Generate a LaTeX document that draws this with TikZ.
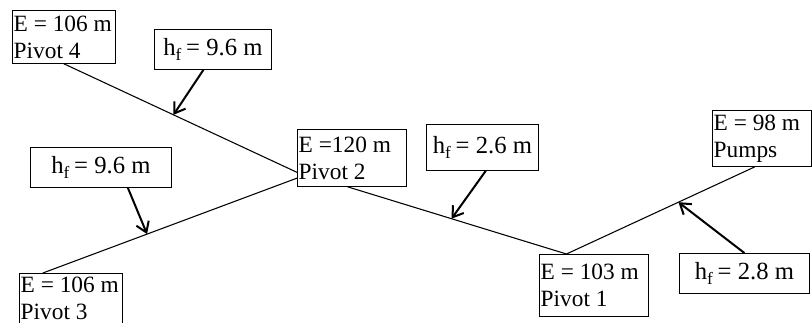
\documentclass[tikz,border=0pt]{standalone}
\usepackage{fontspec}
\setmainfont{Liberation Serif}
\usetikzlibrary{arrows.meta,calc}

\begin{document}
\begin{tikzpicture}[x=0.75pt, y=-0.75pt,
    pivot/.style={draw, line width=0.6pt, anchor=north west, inner xsep=1pt, inner ysep=0pt,
        align=flush left, font=\fontsize{17.5}{20.25}\selectfont},
    loss/.style={draw, line width=0.6pt, anchor=north west, inner sep=0pt,
        font=\fontsize{18.5}{22}\selectfont},
    pipe/.style={line width=0.8pt},
    flow/.style={line width=1.5pt, -{Straight Barb[length=7.5pt, width=10pt]}}]
    \path[use as bounding box, clip] (0,0) rectangle (812,323);

    % Pivots and pumps
    \node[pivot, minimum height=39.75pt, text width=75.25pt] (p4) at (12,10) {E = 106 m\\Pivot 4};
    \node[pivot, minimum height=42.75pt, text width=79.75pt] (p2) at (297,129) {E =120 m\\Pivot 2};
    \node[pivot, minimum height=46.5pt, text width=79.75pt] (p1) at (539,254) {E = 103 m\\Pivot 1};
    \node[pivot, minimum height=42pt, text width=72.25pt] (pumps) at (712,110) {E = 98 m\\Pumps};
    \node[pivot, minimum height=38pt, text width=75.25pt] (p3) at (19,273) {E = 106 m\\Pivot 3};

    % Pipes
    \coordinate (j4) at ($(p2.south west)!0.25!(p2.north west)$);
    \coordinate (j3) at ($(p2.south west)!0.15!(p2.north west)$);
    \coordinate (j1) at ($(p1.north west)!0.25!(p1.north east)$);
    \draw[pipe] (p4.south) -- coordinate[pos=0.47] (m4) (j4);
    \draw[pipe] ($(p3.north west)!0.23!(p3.north east)$) -- coordinate[pos=0.41] (m3) (j3);
    \draw[pipe] ($(p2.south west)!0.46!(p2.south east)$) -- coordinate[pos=0.475] (m2) (j1);
    \draw[pipe] (j1) -- coordinate[pos=0.594] (m1) ($(pumps.south west)!0.43!(pumps.south east)$);

    % Head losses
    \node[loss, minimum width=87.75pt, minimum height=30pt] (hfa) at (154,29) {h\textsubscript{f}\,= 9.6 m};
    \node[loss, minimum width=105.75pt, minimum height=30pt] (hfb) at (30,147) {h\textsubscript{f}\,= 9.6 m};
    \node[loss, minimum width=84pt, minimum height=34.5pt] (hfc) at (426,124) {h\textsubscript{f}\,= 2.6 m};
    \node[loss, minimum width=97.5pt, minimum height=30pt] (hfd) at (679,253) {h\textsubscript{f}\,= 2.8 m};

    \draw[flow] ($(hfa.south west)!0.42!(hfa.south east)$) -- (m4);
    \draw[flow] ($(hfb.south west)!0.69!(hfb.south east)$) -- (m3);
    \draw[flow] ($(hfc.south west)!0.53!(hfc.south east)$) -- (m2);
    \draw[flow] (hfd.north) -- (m1);
\end{tikzpicture}
\end{document}
